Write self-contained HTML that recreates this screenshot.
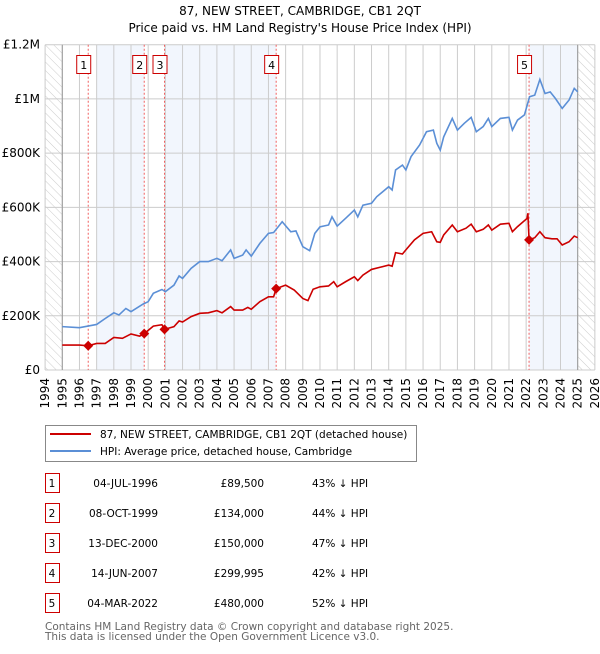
<!DOCTYPE html>
<html><head><meta charset="utf-8"><style>
body{margin:0;background:#fff;width:600px;height:650px;overflow:hidden;font-family:"DejaVu Sans","Liberation Sans",sans-serif;}
svg text{font-family:"DejaVu Sans","Liberation Sans",sans-serif;}
</style></head><body>
<svg id="c" width="600" height="650">
<defs><pattern id="hatch" width="6" height="6" patternUnits="userSpaceOnUse" patternTransform="rotate(-45)"><line x1="0" y1="0" x2="0" y2="6" stroke="#ccc" stroke-width="1"/></pattern></defs>
<text x="300" y="15" text-anchor="middle" font-size="12">87, NEW STREET, CAMBRIDGE, CB1 2QT</text>
<text x="300" y="32" text-anchor="middle" font-size="12">Price paid vs. HM Land Registry's House Price Index (HPI)</text>
<g id="plot"></g>
<g>
<rect x="45.5" y="425.5" width="371" height="36" fill="#fff" stroke="#888"/>
<line x1="50" y1="434" x2="91" y2="434" stroke="#cc0000" stroke-width="2"/>
<text x="100" y="438" font-size="10.5">87, NEW STREET, CAMBRIDGE, CB1 2QT (detached house)</text>
<line x1="50" y1="451" x2="91" y2="451" stroke="#5b8fd6" stroke-width="2"/>
<text x="100" y="455" font-size="10.5">HPI: Average price, detached house, Cambridge</text>
</g>
<g id="table"></g>
<text x="45" y="630" font-size="10.5" fill="#666">Contains HM Land Registry data © Crown copyright and database right 2025.</text>
<text x="45" y="640" font-size="10.5" fill="#666">This data is licensed under the Open Government Licence v3.0.</text>
</svg>
<script>
const hpiT=[1995,1996,1996.5,1997,1997.5,1998,1998.3,1998.7,1999,1999.7,2000,2000.3,2000.8,2001,2001.5,2001.8,2002,2002.5,2003,2003.5,2004,2004.3,2004.8,2005,2005.5,2005.7,2006,2006.5,2007,2007.3,2007.8,2008.3,2008.6,2009,2009.4,2009.7,2010,2010.5,2010.7,2011,2011.5,2012,2012.2,2012.5,2013,2013.3,2014,2014.2,2014.4,2014.8,2015,2015.3,2015.8,2016.2,2016.6,2016.8,2017,2017.2,2017.7,2018,2018.4,2018.8,2019.1,2019.5,2019.8,2020,2020.5,2021,2021.2,2021.5,2021.9,2022.2,2022.5,2022.8,2023.1,2023.4,2023.7,2024.1,2024.5,2024.8,2025];
const hpiV=[160,156,162,168,190,211,203,227,215,243,252,283,297,289,313,347,338,375,400,400,412,403,443,412,424,443,420,467,504,507,547,510,513,455,440,504,528,535,565,531,560,590,565,608,615,639,676,664,738,756,738,787,830,879,885,836,811,860,928,885,910,932,879,898,928,898,928,932,885,922,941,1008,1014,1072,1020,1026,1002,965,996,1039,1026];
const ppT=[1995,1996,1996.5,1997,1997.5,1998,1998.5,1999,1999.5,1999.77,2000.3,2000.8,2000.95,2001.5,2001.8,2002,2002.5,2003,2003.5,2004,2004.3,2004.8,2005,2005.5,2005.8,2006,2006.5,2007,2007.3,2007.45,2008,2008.5,2009,2009.3,2009.6,2010,2010.5,2010.8,2011,2011.5,2012,2012.2,2012.5,2013,2013.5,2014,2014.2,2014.4,2014.8,2015,2015.5,2016,2016.5,2016.8,2017,2017.2,2017.7,2018,2018.5,2018.8,2019.1,2019.5,2019.8,2020,2020.5,2021,2021.2,2021.5,2022.05,2022.1,2022.17,2022.5,2022.8,2023.1,2023.5,2023.8,2024.1,2024.5,2024.8,2025];
const ppV=[92,92,89.5,98,98,120,117,133,125,134,162,167,150,160,181,177,197,209,211,219,211,234,221,221,231,224,252,270,270,300,313,295,264,256,298,307,310,326,307,326,344,330,350,371,379,387,383,433,428,443,480,504,510,473,471,498,535,510,523,538,510,519,535,516,538,541,510,529,559,578,480,488,510,488,484,484,461,473,494,488];
const saleNums=["1","2","3","4","5"];
const saleT=[1996.51,1999.77,2000.95,2007.45,2022.17];
const saleV=[89.5,134,150,299.995,480];
const saleDates=["04-JUL-1996","08-OCT-1999","13-DEC-2000","14-JUN-2007","04-MAR-2022"];
const salePrices=["£89,500","£134,000","£150,000","£299,995","£480,000"];
const salePct=["43% ↓ HPI","44% ↓ HPI","47% ↓ HPI","42% ↓ HPI","52% ↓ HPI"];
const yTicks=[0,200,400,600,800,1000,1200];
const yLabels=["£0","£200K","£400K","£600K","£800K","£1M","£1.2M"];
const NS="http://www.w3.org/2000/svg";
const X0=45.1,PX=17.18,Y0=370,YT=44.7;
const x=t=>X0+(t-1994)*PX, y=v=>Y0-(v/1200)*(Y0-YT);
const g=document.getElementById('plot');
function mk(tag,at,parent){const e=document.createElementNS(NS,tag);for(const k in at)e.setAttribute(k,at[k]);(parent||g).appendChild(e);return e;}
const bands=[[1997,saleT[1]],[saleT[2],saleT[3]],[saleT[4],2025]];
bands.forEach(b=>{const r=mk('rect',{x:x(b[0]),y:YT,width:x(b[1])-x(b[0]),height:Y0-YT,fill:'#eef3fc',opacity:0.75});

});
[[1994,1995],[2025,2026]].forEach(b=>{const r=mk('rect',{x:x(b[0]),y:YT,width:x(b[1])-x(b[0]),height:Y0-YT,fill:'url(#hatch)'});

});
for(let yr=1994;yr<=2026;yr++){const l=mk('line',{x1:x(yr),x2:x(yr),y1:YT,y2:Y0,stroke:'#ccc','stroke-width':1});


const t=mk('text',{x:0,y:0,'font-size':12,'text-anchor':'end',transform:`translate(${x(yr)+4},${Y0+8}) rotate(-90)`});
t.textContent=yr;

}
yTicks.forEach((v,i)=>{const l=mk('line',{x1:X0,x2:x(2026),y1:y(v),y2:y(v),stroke:'#ccc','stroke-width':1});


const t=mk('text',{x:40,y:y(v)+4,'font-size':12,'text-anchor':'end'});t.textContent=yLabels[i];

});
[1995,2025].forEach(yr=>{const l=mk('line',{x1:x(yr),x2:x(yr),y1:YT,y2:Y0,stroke:'#999','stroke-width':1});

});
saleT.forEach((t,i)=>{const l=mk('line',{x1:x(t),x2:x(t),y1:YT,y2:Y0,stroke:'#f06060','stroke-width':1,'stroke-dasharray':'2,2'});


const r=mk('rect',{x:x(t)-11.5,y:55.5,width:14,height:18,fill:'#fff',stroke:'#c00'});


const tx=mk('text',{x:x(t)-4.5,y:69,'font-size':11,'text-anchor':'middle'});tx.textContent=saleNums[i];

});
const hp=mk('polyline',{points:hpiT.map((t,i)=>x(t)+','+y(hpiV[i])).join(' '),fill:'none',stroke:'#5b8fd6','stroke-width':1.6});


const pp=mk('polyline',{points:ppT.map((t,i)=>x(t)+','+y(ppV[i])).join(' '),fill:'none',stroke:'#cc0000','stroke-width':1.6});


saleT.forEach((t,i)=>{const cx=x(t),cy=y(saleV[i]);const d=mk('polygon',{points:`${cx},${cy-5} ${cx+5},${cy} ${cx},${cy+5} ${cx-5},${cy}`,fill:'#cc0000'});

});
const tb=document.getElementById('table');
saleNums.forEach((n,i)=>{const cy=483+i*30;
const r=mk('rect',{x:45.5,y:cy-9.5,width:14,height:19,fill:'#fff',stroke:'#c00'},tb);


const cells=[[52,'middle',n],[158,'end',saleDates[i]],[264,'end',salePrices[i]],[312,'start',salePct[i]]];
cells.forEach(c=>{const t=mk('text',{x:c[0],y:cy+4,'font-size':10.5,'text-anchor':c[1]},tb);t.textContent=c[2];

});});
</script>
</body></html>
